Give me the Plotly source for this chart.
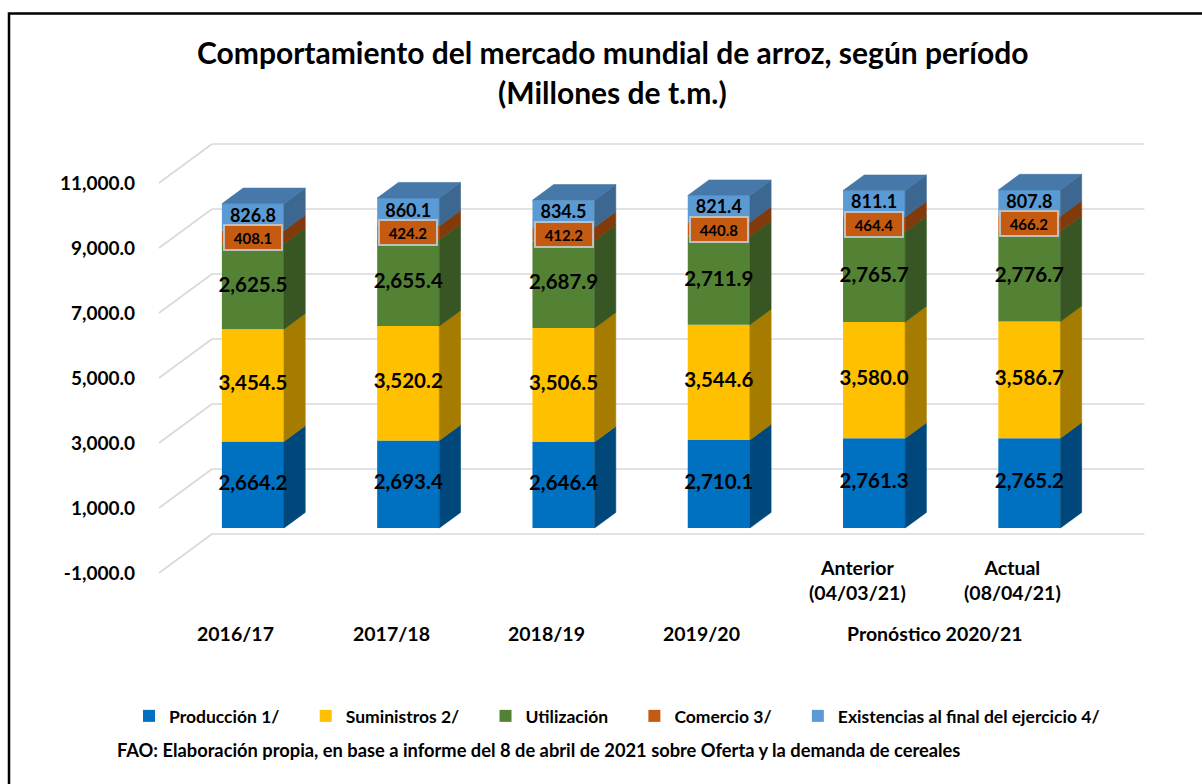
import plotly.graph_objects as go

# ---------------- data ----------------
grupos = ["2016/17", "2017/18", "2018/19", "2019/20", "Pronóstico 2020/21", "Pronóstico 2020/21"]
subcategorias = ["", "", "", "", "Anterior<br>(04/03/21)", "Actual<br>(08/04/21)"]

produccion = [2664.2, 2693.4, 2646.4, 2710.1, 2761.3, 2765.2]
suministros = [3454.5, 3520.2, 3506.5, 3544.6, 3580.0, 3586.7]
utilizacion = [2625.5, 2655.4, 2687.9, 2711.9, 2765.7, 2776.7]
comercio = [408.1, 424.2, 412.2, 440.8, 464.4, 466.2]
existencias = [826.8, 860.1, 834.5, 821.4, 811.1, 807.8]

nombres = ["Producción 1/", "Suministros 2/", "Utilización", "Comercio 3/",
           "Existencias al final del ejercicio 4/"]
y_ticks = [-1000, 1000, 3000, 5000, 7000, 9000, 11000]

# ---------------- style ----------------
FONT = "Lato"
front_cols = ["#0070C0", "#FFC000", "#548235", "#C55A11", "#5B9BD5"]
side_cols = ["#00487C", "#A67C00", "#375623", "#803A0B", "#3B6790"]
top_col = "#4678AA"
label_sizes = [20.5, 20.5, 20.5, 15, 18]
LEGEND_PAD = "\u00a0" * 5

# pseudo-3D projection (depth d from 0 = front of floor to 1 = back wall)
DX = 0.3415   # horizontal shift (category units) per full depth
DY = 1200.0   # vertical shift (value units) per full depth
D_F, D_B = 0.32, 0.72
BAR_W = 0.40
WALL_X0, WALL_X1 = -0.496, 5.85

# plot area in pixels (for paper-coordinate placement)
PL, PR, PT, PB = 140, 1150, 100, 600
def py(px):
    return (PB - px) / (PB - PT)
def pxp(px):
    return (px - PL) / (PR - PL)

series = [produccion, suministros, utilizacion, comercio, existencias]
n = len(produccion)
xs = list(range(n))

fig = go.Figure()

bases = []
cum = [0.0] * n
for s in series:
    bases.append(cum[:])
    cum = [c + v for c, v in zip(cum, s)]

# front faces (bars)
for k, s in enumerate(series):
    fig.add_trace(go.Bar(
        x=[x + D_F * DX for x in xs], y=s,
        base=[b + D_F * DY for b in bases[k]],
        width=BAR_W, name=nombres[k] + LEGEND_PAD,
        marker=dict(color=front_cols[k], line=dict(width=0)),
        hoverinfo="skip",
    ))

# side faces
for k, s in enumerate(series):
    px_, py_ = [], []
    for i in xs:
        xr = i + BAR_W / 2
        b = bases[k][i]
        t = b + s[i]
        px_ += [xr + D_F * DX, xr + D_B * DX, xr + D_B * DX, xr + D_F * DX, xr + D_F * DX, None]
        py_ += [b + D_F * DY, b + D_B * DY, t + D_B * DY, t + D_F * DY, b + D_F * DY, None]
    fig.add_trace(go.Scatter(x=px_, y=py_, mode="lines", fill="toself",
                             fillcolor=side_cols[k], line=dict(width=0.6, color=side_cols[k]),
                             showlegend=False, hoverinfo="skip"))

# top faces
tx, ty = [], []
for i in xs:
    xl, xr = i - BAR_W / 2, i + BAR_W / 2
    T = cum[i]
    tx += [xl + D_F * DX, xl + D_B * DX, xr + D_B * DX, xr + D_F * DX, xl + D_F * DX, None]
    ty += [T + D_F * DY, T + D_B * DY, T + D_B * DY, T + D_F * DY, T + D_F * DY, None]
fig.add_trace(go.Scatter(x=tx, y=ty, mode="lines", fill="toself", fillcolor=top_col,
                         line=dict(width=0.6, color=top_col), showlegend=False, hoverinfo="skip"))

# data labels
annotations = []
for k, s in enumerate(series):
    lx = [i + D_F * DX for i in xs]
    ly = [bases[k][i] + s[i] / 2 + D_F * DY for i in xs]
    txt = [f"{v:,.1f}" for v in s]
    if k == 3:
        for x_, y_, t_ in zip(lx, ly, txt):
            annotations.append(dict(x=x_, y=y_, xref="x", yref="y", text=t_, showarrow=False,
                                    font=dict(family=FONT, size=label_sizes[k], color="black", weight="bold"),
                                    bgcolor=front_cols[k], bordercolor="#BFBFBF", borderwidth=2,
                                    width=54, height=21, borderpad=1))
    else:
        fig.add_trace(go.Scatter(x=lx, y=ly, mode="text", text=txt,
                                 textfont=dict(family=FONT, size=label_sizes[k], color="black", weight="bold"),
                                 showlegend=False, hoverinfo="skip"))

# gridlines on back wall with diagonal floor edge
shapes = []
for v in y_ticks:
    shapes.append(dict(type="line", xref="x", yref="y", x0=WALL_X0, y0=v, x1=WALL_X0 + DX, y1=v + DY,
                       line=dict(color="#D9D9D9", width=1.6), layer="below"))
    shapes.append(dict(type="line", xref="x", yref="y", x0=WALL_X0 + DX, y0=v + DY, x1=WALL_X1, y1=v + DY,
                       line=dict(color="#D9D9D9", width=1.6), layer="below"))

# chart border (right and bottom edges fall outside the picture)
shapes.append(dict(type="rect", xref="paper", yref="paper", x0=pxp(9), x1=pxp(1280), y0=py(860), y1=py(13.5),
                   line=dict(color="black", width=2.5), fillcolor="rgba(0,0,0,0)", layer="above"))

# category labels
CAT_FONT = dict(family=FONT, size=19.5, color="black", weight="bold")
for i, t in enumerate(subcategorias):
    if t:
        annotations.append(dict(x=i, y=py(579.5), xref="x", yref="paper", text=t, showarrow=False,
                                yanchor="middle", font=CAT_FONT))
seen = []
for g in grupos:
    if g not in seen:
        seen.append(g)
for g in seen:
    idx = [i for i, gg in enumerate(grupos) if gg == g]
    annotations.append(dict(x=sum(idx) / len(idx), y=py(633), xref="x", yref="paper", text=g,
                            showarrow=False, yanchor="middle", font=CAT_FONT))

# titles
TITLE_FONT = dict(family=FONT, size=30, color="black", weight="bold")
annotations.append(dict(x=pxp(612), y=py(52), xref="paper", yref="paper",
                        text="Comportamiento del mercado mundial de arroz, según período",
                        showarrow=False, yanchor="middle", xanchor="center", font=TITLE_FONT))
annotations.append(dict(x=pxp(612), y=py(92), xref="paper", yref="paper",
                        text="(Millones de t.m.)", showarrow=False, yanchor="middle", xanchor="center",
                        font=TITLE_FONT))
# source note
annotations.append(dict(x=pxp(115), y=py(750), xref="paper", yref="paper", xanchor="left", yanchor="middle",
                        text="FAO: Elaboración propia, en base a informe del 8 de abril de 2021 sobre Oferta y la demanda de cereales",
                        showarrow=False, font=dict(family=FONT, size=18.3, color="black", weight="bold")))

fig.update_layout(
    width=1202, height=784,
    barmode="overlay",
    plot_bgcolor="white", paper_bgcolor="white",
    margin=dict(l=PL, r=1202 - PR, t=PT, b=784 - PB, pad=0),
    xaxis=dict(range=[-0.618, 5.886], visible=False, fixedrange=True),
    yaxis=dict(range=[-1831, 13554], tickvals=y_ticks, ticktext=[f"{v:,.1f}" for v in y_ticks],
               showgrid=False, zeroline=False, showline=False, ticks="", ticklabelstandoff=4,
               tickfont=dict(family=FONT, size=19, color="black", weight="bold")),
    legend=dict(orientation="h", x=pxp(129), xref="paper", y=py(716), yref="paper",
                yanchor="middle", xanchor="left", traceorder="normal",
                font=dict(family=FONT, size=17.5, color="black", weight="bold")),
    shapes=shapes, annotations=annotations,
    showlegend=True,
)

fig.write_html("out.html", config={"displayModeBar": False},
               post_script="document.body.style.margin='0';document.body.style.overflow='hidden';")
